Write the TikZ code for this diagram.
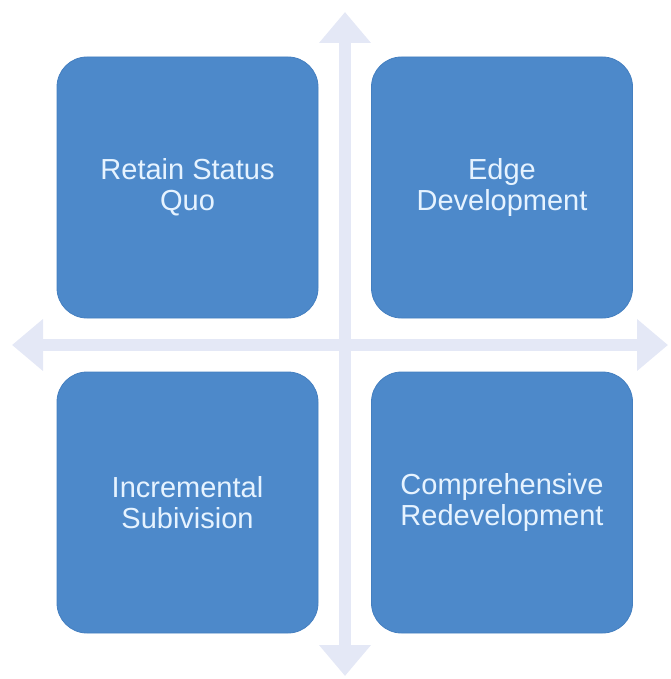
\documentclass[tikz,border=0pt]{standalone}
\usepackage{fontspec}
\setmainfont{Liberation Sans}
\usetikzlibrary{arrows.meta}
\definecolor{boxblue}{HTML}{4D89CA}
\definecolor{boxedge}{HTML}{447FC0}
\definecolor{txtblue}{HTML}{E6F3FF}
\definecolor{axiscol}{HTML}{E4E8F6}
\tikzset{
  quad/.style={draw=boxedge, line width=0.8pt, fill=boxblue, rounded corners=30pt,
    minimum width=261pt, minimum height=261pt, inner sep=0pt,
    text=txtblue, align=center, font=\fontsize{29}{31}\selectfont},
  axis/.style={draw=axiscol, line width=12pt,
    {Triangle[width=50pt,length=31pt]}-{Triangle[width=50pt,length=31pt]}}
}
\begin{document}
\begin{tikzpicture}[x=1pt,y=-1pt]
\useasboundingbox (0,0) rectangle (670,679);
\coordinate (top) at (345,12);
\coordinate (bot) at (345,676);
\coordinate (lft) at (12,345);
\coordinate (rgt) at (668,345);
\draw[axis] (top) -- (bot);
\draw[axis] (lft) -- (rgt);
\node[quad] (tl) at (187.5,187.5) {Retain Status\\Quo};
\node[quad] (tr) at (502,187.5) {Edge\\Development};
\node[quad] (bl) at (187.5,502.5) {Incremental\\Subivision};
\node[quad] (br) at (502,502.5) {Comprehensive\\Redevelopment};
\end{tikzpicture}
\end{document}
